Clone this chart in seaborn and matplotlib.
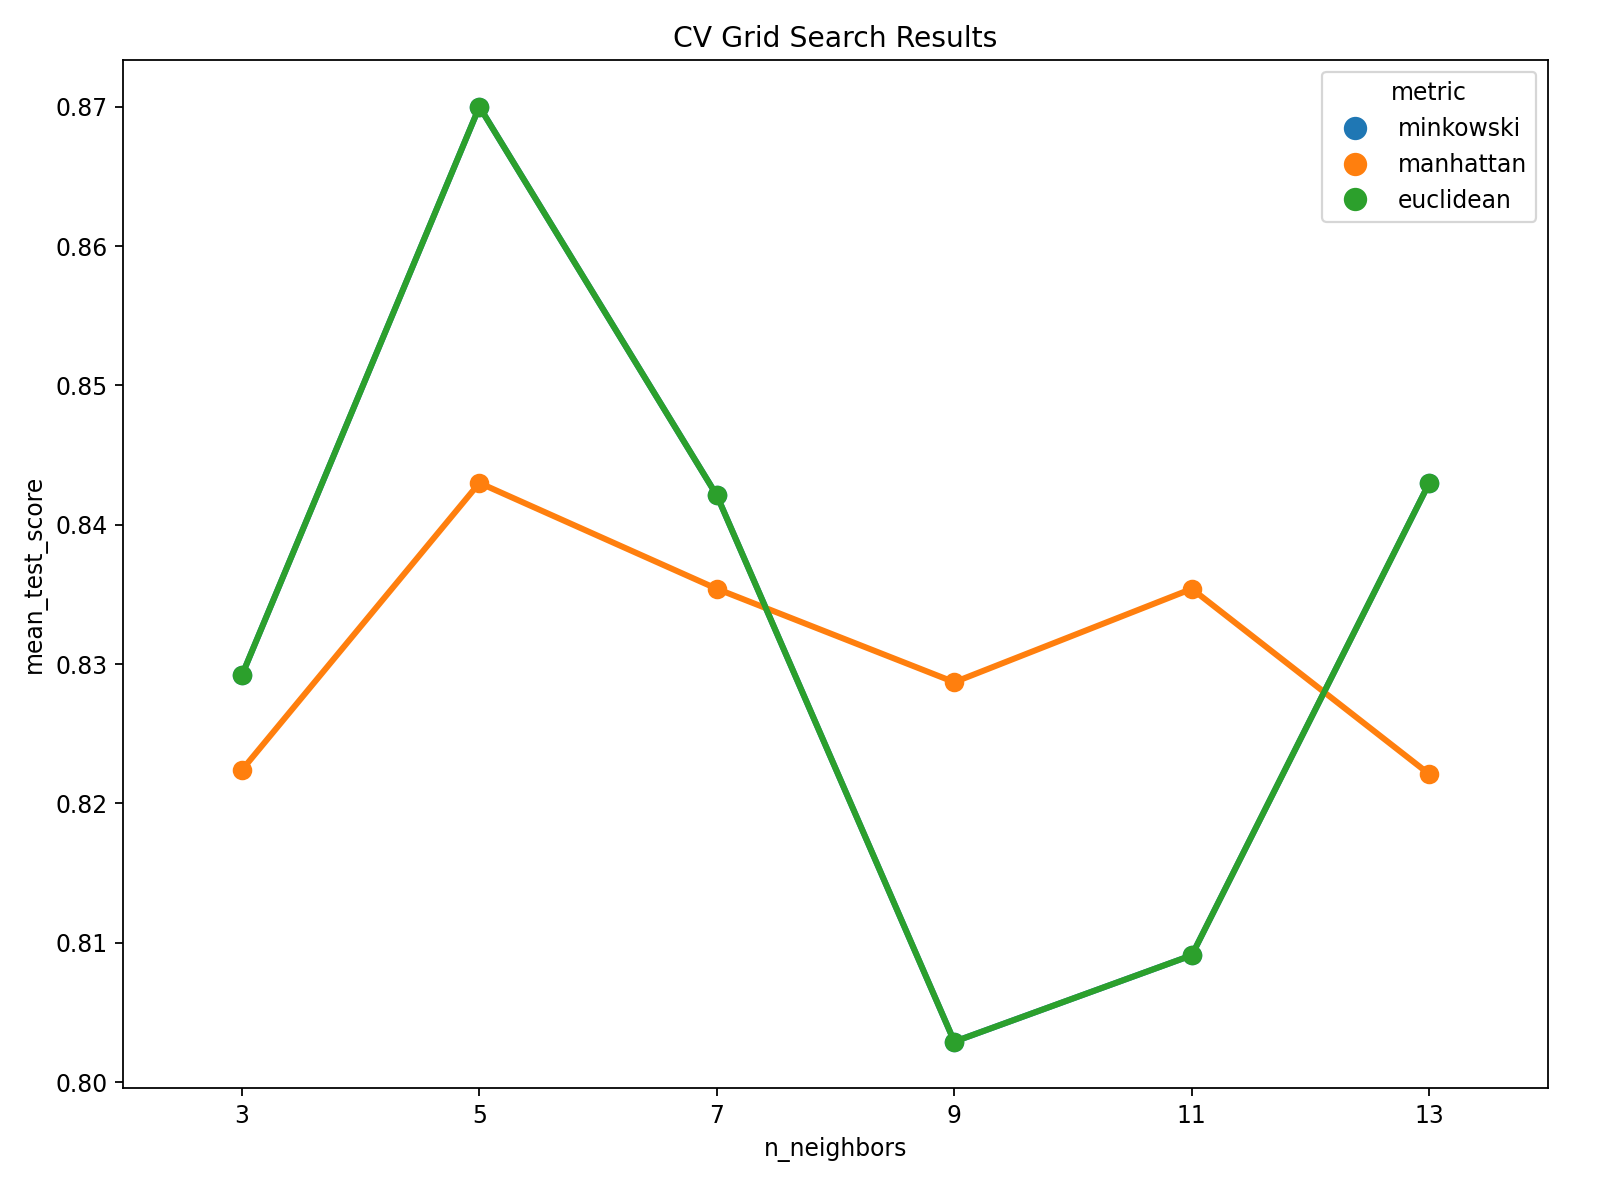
import numpy as np
import pandas as pd
import matplotlib
matplotlib.use("Agg")
import matplotlib.pyplot as plt
import seaborn as sns
from matplotlib.lines import Line2D

# グリッドサーチ結果
n_neighbors = [3, 5, 7, 9, 11, 13]
metrics = ['minkowski', 'manhattan', 'euclidean']
minkowski_scores = [0.8292, 0.8700, 0.8421, 0.8029, 0.8091, 0.8430]
manhattan_scores = [0.8224, 0.8430, 0.8354, 0.8287, 0.8354, 0.8221]
euclidean_scores = [0.8292, 0.8700, 0.8421, 0.8029, 0.8091, 0.8430]

rows = []
for m, sc in zip(metrics, [minkowski_scores, manhattan_scores, euclidean_scores]):
    for k, s in zip(n_neighbors, sc):
        rows.append({'n_neighbors': k, 'metric': m, 'mean_test_score': s})
df = pd.DataFrame(rows)

plt.style.use('default')
plt.rcParams['font.size'] = 10.6
fig, ax = plt.subplots(figsize=(10, 7.5), dpi=160)
fig.subplots_adjust(left=0.077, right=0.9675, top=0.95, bottom=0.093)

palette = sns.color_palette()[:3]
sns.pointplot(x='n_neighbors', y='mean_test_score', hue='metric', data=df,
              hue_order=metrics, palette=palette, ax=ax, legend=False)

ax.set_title('CV Grid Search Results')
ax.set_yticks(np.arange(0.80, 0.871, 0.01))
ax.set_yticklabels(['%.2f' % v for v in np.arange(0.80, 0.871, 0.01)])

# 凡例はマーカーのみ
handles = [Line2D([0], [0], marker='o', linestyle='', color=c, markersize=9.5)
           for c in palette]
ax.legend(handles, metrics, title='metric', loc='upper right')

plt.savefig('out.png')
plt.close('all')
